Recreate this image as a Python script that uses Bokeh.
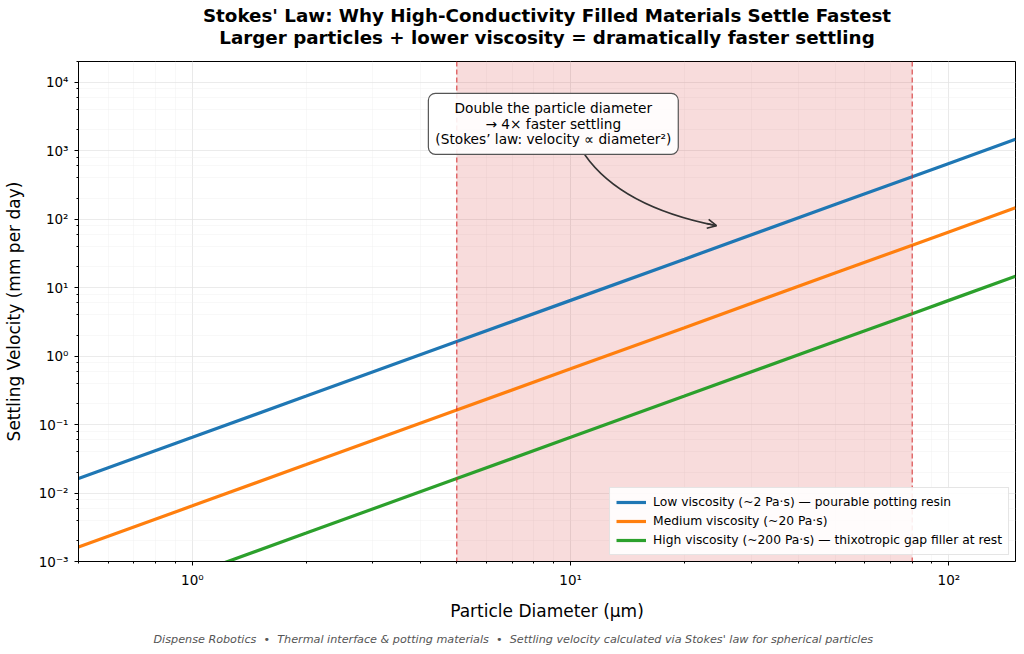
from bokeh.plotting import figure
from bokeh.models import (BoxAnnotation, Span, Label, Legend, LegendItem, Arrow, OpenHead,
                          CustomJSTickFormatter, LogTicker, Range1d, Title)
from bokeh.embed import file_html
from bokeh.resources import INLINE

# Settling velocity (mm/day) versus particle diameter (µm) for three resin viscosities
diameter_um = [0.5, 1, 2, 5, 10, 20, 50, 80, 100, 150]
v_low = [0.0163, 0.065, 0.26, 1.63, 6.5, 26, 163, 416, 650, 1460]
v_medium = [0.00163, 0.0065, 0.026, 0.163, 0.65, 2.6, 16.3, 41.6, 65, 146]
v_high = [0.000163, 0.00065, 0.0026, 0.0163, 0.065, 0.26, 1.63, 4.16, 6.5, 14.6]

series_labels = [
    "Low viscosity (~2 Pa·s) — pourable potting resin",
    "Medium viscosity (~20 Pa·s)",
    "High viscosity (~200 Pa·s) — thixotropic gap filler at rest",
]
series_colors = ["#1f77b4", "#ff7f0e", "#2ca02c"]

# typical filler particle size window
filler_band = (5, 80)

# callout: text anchor, curved arrow start / control / end (data coords)
note_anchor = (9.0, 2460)
arrow_start = (10.9, 869)
arrow_ctrl = (13.6, 151)
arrow_end = (24.3, 80)
arrow_tail = (22.9, 86)

FONT = "DejaVu Sans"
NBSP = "\u00a0"

p = figure(width=1024, height=654, x_axis_type="log", y_axis_type="log",
           x_range=Range1d(0.5, 150), y_range=Range1d(1e-3, 2e4),
           output_backend="svg", toolbar_location=None,
           min_border_left=77, min_border_right=9, min_border_top=61, min_border_bottom=93)
p.background_fill_color = "white"
p.border_fill_color = "white"
p.outline_line_color = "black"
p.outline_line_width = 1

# shaded band with dashed edges
p.add_layout(BoxAnnotation(left=filler_band[0], right=filler_band[1],
                           fill_color="#d62728", fill_alpha=0.16, line_alpha=0, level="underlay"))
for xv in filler_band:
    p.add_layout(Span(location=xv, dimension="height", line_color="#d62728", line_alpha=0.75,
                      line_dash="5 3", line_width=1.3))

items = []
for vals, lab, col in zip([v_low, v_medium, v_high], series_labels, series_colors):
    r = p.line(diameter_um, vals, line_color=col, line_width=3.2)
    items.append(LegendItem(label=lab, renderers=[r]))

legend = Legend(items=items, location="bottom_right", label_text_font=FONT,
                label_text_font_size="12.3px", label_text_color="black",
                glyph_width=30, glyph_height=16,
                spacing=3, padding=6, margin=6, label_standoff=7,
                border_line_color="#cccccc", background_fill_alpha=0.9)
p.add_layout(legend)

# axes
sup_js = """
const sup = {"-":"\u207b","0":"\u2070","1":"\u00b9","2":"\u00b2","3":"\u00b3","4":"\u2074",
             "5":"\u2075","6":"\u2076","7":"\u2077","8":"\u2078","9":"\u2079"};
const e = Math.round(Math.log10(tick));
return "10" + String(e).split("").map(c => sup[c]).join("");
"""
for ax in (p.xaxis[0], p.yaxis[0]):
    ax.formatter = CustomJSTickFormatter(code=sup_js)
    ax.major_label_text_font = FONT
    ax.major_label_text_font_size = "13.5px"
    ax.major_label_text_color = "black"
    ax.axis_label_text_font = FONT
    ax.axis_label_text_font_size = "17px"
    ax.axis_label_text_font_style = "normal"
    ax.axis_label_text_color = "black"
    ax.axis_line_color = "black"
    ax.major_tick_line_color = "black"
    ax.minor_tick_line_color = "black"
    ax.major_tick_in = 0
    ax.major_tick_out = 4
    ax.minor_tick_in = 0
    ax.minor_tick_out = 2
    ax.major_label_standoff = 6
p.yaxis.ticker = LogTicker(desired_num_ticks=10)
p.xaxis.axis_label = "Particle Diameter (µm)"
p.yaxis.axis_label = "Settling Velocity (mm per day)"
p.xaxis.axis_label_standoff = 10
p.yaxis.axis_label_standoff = 12

for g in (p.xgrid[0], p.ygrid[0]):
    g.grid_line_color = "#e0e0e0"
    g.grid_line_alpha = 0.55
    g.minor_grid_line_color = "#f0f0f0"
    g.minor_grid_line_alpha = 0.45

# curved callout arrow
p.quadratic(x0=[arrow_start[0]], y0=[arrow_start[1]], x1=[arrow_end[0]], y1=[arrow_end[1]],
            cx=[arrow_ctrl[0]], cy=[arrow_ctrl[1]], line_color="#333333", line_width=1.6)
p.add_layout(Arrow(end=OpenHead(size=9, line_color="#333333", line_width=1.6),
                   x_start=arrow_tail[0], y_start=arrow_tail[1],
                   x_end=arrow_end[0], y_end=arrow_end[1],
                   line_color="#333333", line_width=1.6))

p.add_layout(Label(x=note_anchor[0], y=note_anchor[1],
                   text="Double the particle diameter\n\u2192 4\u00d7 faster settling\n(Stokes\u2019 law: velocity \u221d diameter\u00b2)",
                   text_align="center", text_baseline="middle", text_font=FONT,
                   text_font_size="13.7px", text_color="black", text_line_height=0.97,
                   background_fill_color="white", background_fill_alpha=0.9,
                   border_line_color="#555555", border_line_width=1.2, padding=7,
                   border_radius=7))

# bold title (two centred lines) above, source note below
title_kw = dict(align="center", text_font=FONT, text_font_size="18.3px",
                text_font_style="bold", text_color="black")
p.add_layout(Title(text="Larger particles + lower viscosity = dramatically faster settling",
                   standoff=27, **title_kw), "above")
p.add_layout(Title(text="Stokes' Law: Why High-Conductivity Filled Materials Settle Fastest",
                   standoff=-29, **title_kw), "above")
sep = NBSP * 2 + "\u2022" + NBSP * 2
p.add_layout(Title(text="Dispense Robotics" + sep + "Thermal interface & potting materials" + sep
                   + "Settling velocity calculated via Stokes' law for spherical particles",
                   align="left", text_font=FONT, text_font_size="11.2px", offset=75,
                   text_font_style="italic", text_color="#555555", standoff=14), "below")

open("out.html", "w").write(file_html(p, INLINE))
